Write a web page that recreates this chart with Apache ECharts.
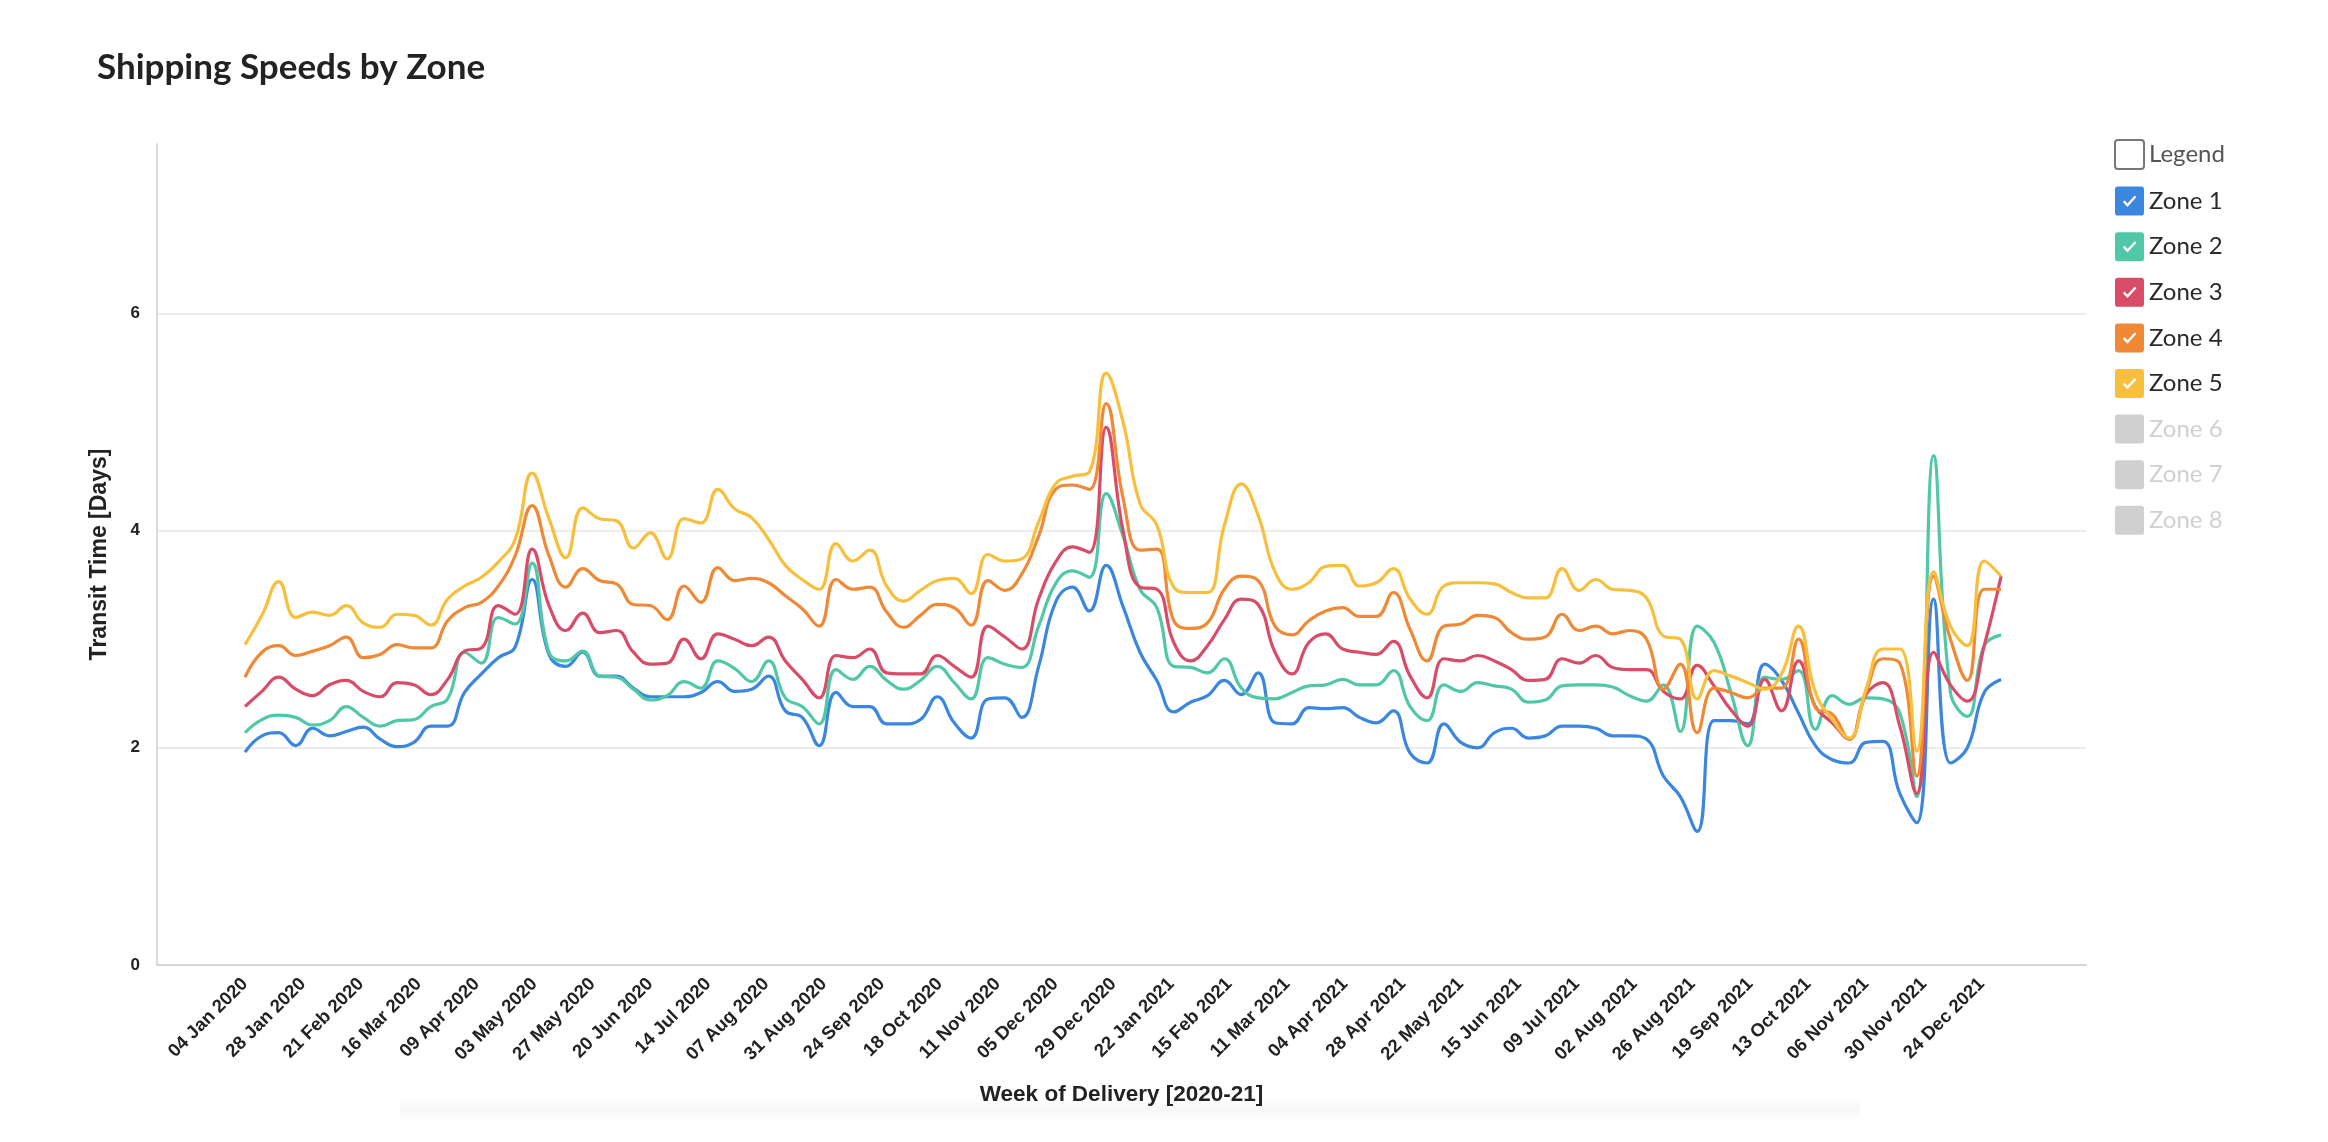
<!DOCTYPE html>
<html><head><meta charset="utf-8">
<script src="https://cdn.jsdelivr.net/npm/echarts@6/dist/echarts.min.js"></script>
<style>html,body{margin:0;padding:0;background:#fff}#c{width:2328px;height:1142px}</style>
</head><body><div id="c"></div>
<script>
// ---- data ----
const MONTHS = ['Jan','Feb','Mar','Apr','May','Jun','Jul','Aug','Sep','Oct','Nov','Dec'];
const firstWeek = '04 Jan 2020';
const weekCount = 105;
const tickLabels = ['04 Jan 2020','28 Jan 2020','21 Feb 2020','16 Mar 2020','09 Apr 2020','03 May 2020','27 May 2020','20 Jun 2020','14 Jul 2020','07 Aug 2020','31 Aug 2020','24 Sep 2020','18 Oct 2020','11 Nov 2020','05 Dec 2020','29 Dec 2020','22 Jan 2021','15 Feb 2021','11 Mar 2021','04 Apr 2021','28 Apr 2021','22 May 2021','15 Jun 2021','09 Jul 2021','02 Aug 2021','26 Aug 2021','19 Sep 2021','13 Oct 2021','06 Nov 2021','30 Nov 2021','24 Dec 2021'];
const zoneNames = ['Zone 1','Zone 2','Zone 3','Zone 4','Zone 5','Zone 6','Zone 7','Zone 8'];
const zone1 = [1.96,2.11,2.14,2.02,2.18,2.11,2.15,2.19,2.08,2.01,2.05,2.2,2.2,2.51,2.68,2.83,2.93,3.55,2.86,2.75,2.88,2.66,2.66,2.55,2.47,2.47,2.47,2.51,2.61,2.52,2.54,2.66,2.34,2.28,2.02,2.51,2.38,2.38,2.22,2.22,2.26,2.47,2.23,2.09,2.45,2.46,2.28,2.75,3.34,3.48,3.26,3.68,3.3,2.88,2.62,2.33,2.42,2.48,2.62,2.49,2.69,2.23,2.22,2.37,2.36,2.37,2.28,2.23,2.34,1.95,1.86,2.22,2.05,2.0,2.14,2.18,2.09,2.11,2.2,2.2,2.18,2.11,2.11,2.08,1.74,1.55,1.23,2.25,2.25,2.22,2.77,2.62,2.32,2.02,1.89,1.86,2.05,2.06,1.58,1.31,3.37,1.86,2.0,2.51,2.63];
const zone2 = [2.14,2.26,2.3,2.28,2.21,2.25,2.38,2.28,2.2,2.25,2.26,2.38,2.45,2.88,2.78,3.2,3.14,3.7,2.88,2.8,2.89,2.66,2.65,2.54,2.44,2.48,2.61,2.55,2.8,2.73,2.61,2.8,2.46,2.38,2.22,2.72,2.63,2.75,2.62,2.54,2.62,2.75,2.6,2.45,2.83,2.77,2.74,3.12,3.51,3.63,3.57,4.34,3.95,3.46,3.29,2.75,2.74,2.69,2.82,2.55,2.46,2.45,2.51,2.57,2.58,2.63,2.58,2.58,2.71,2.38,2.25,2.58,2.52,2.6,2.57,2.54,2.42,2.44,2.57,2.58,2.58,2.56,2.48,2.43,2.58,2.15,3.12,2.97,2.51,2.02,2.65,2.63,2.71,2.17,2.48,2.4,2.46,2.45,2.32,1.55,4.69,2.51,2.29,2.94,3.04];
const zone3 = [2.38,2.52,2.65,2.54,2.48,2.58,2.62,2.52,2.47,2.6,2.58,2.49,2.63,2.89,2.92,3.31,3.23,3.83,3.31,3.08,3.24,3.06,3.08,2.88,2.77,2.78,3.0,2.82,3.05,3.0,2.94,3.02,2.8,2.63,2.46,2.85,2.83,2.91,2.69,2.68,2.68,2.85,2.75,2.65,3.12,3.02,2.91,3.37,3.71,3.85,3.8,4.95,4.0,3.48,3.46,2.97,2.8,2.94,3.18,3.37,3.32,2.88,2.68,2.97,3.05,2.91,2.88,2.86,2.98,2.66,2.46,2.82,2.8,2.85,2.8,2.72,2.62,2.63,2.82,2.78,2.85,2.74,2.72,2.72,2.52,2.45,2.76,2.57,2.35,2.2,2.63,2.34,2.8,2.38,2.23,2.08,2.49,2.6,2.2,1.58,2.88,2.58,2.43,2.94,3.58];
const zone4 = [2.65,2.88,2.94,2.85,2.89,2.94,3.02,2.83,2.86,2.95,2.92,2.92,3.17,3.29,3.34,3.49,3.77,4.23,3.77,3.48,3.65,3.54,3.51,3.32,3.31,3.18,3.49,3.34,3.66,3.54,3.56,3.52,3.4,3.28,3.12,3.55,3.46,3.48,3.25,3.11,3.22,3.32,3.29,3.13,3.54,3.45,3.6,3.95,4.38,4.42,4.38,5.17,4.3,3.82,3.83,3.17,3.1,3.15,3.46,3.58,3.54,3.12,3.04,3.17,3.26,3.29,3.21,3.21,3.43,3.09,2.8,3.12,3.14,3.22,3.2,3.06,3.0,3.02,3.23,3.08,3.12,3.05,3.08,3.0,2.54,2.77,2.14,2.55,2.51,2.46,2.55,2.55,3.0,2.37,2.31,2.08,2.51,2.82,2.78,1.74,3.58,3.0,2.62,3.46,3.46];
const zone5 = [2.95,3.22,3.53,3.2,3.25,3.22,3.31,3.15,3.11,3.23,3.22,3.13,3.37,3.49,3.57,3.71,3.92,4.53,4.11,3.75,4.21,4.11,4.09,3.84,3.98,3.74,4.11,4.07,4.38,4.2,4.12,3.92,3.68,3.55,3.46,3.88,3.72,3.82,3.49,3.35,3.45,3.54,3.56,3.42,3.78,3.72,3.74,4.08,4.43,4.5,4.54,5.45,5.0,4.25,4.05,3.48,3.43,3.43,4.05,4.43,4.14,3.62,3.46,3.52,3.67,3.68,3.49,3.52,3.65,3.37,3.23,3.49,3.52,3.52,3.51,3.43,3.38,3.38,3.65,3.45,3.55,3.46,3.45,3.38,3.03,3.0,2.45,2.71,2.66,2.6,2.54,2.68,3.12,2.51,2.26,2.09,2.54,2.91,2.91,1.97,3.62,3.12,2.94,3.72,3.58];
const zoneValues = [zone1, zone2, zone3, zone4, zone5, [], [], []];
const zoneColors = ['#3b86df','#50c8a8','#d94c67','#ef8936','#f7bf3c','#d0d0d0','#d0d0d0','#d0d0d0'];

// ---- helpers ----
function parseDate(s){ const p = s.split(' '); return Date.UTC(+p[2], MONTHS.indexOf(p[1]), +p[0]); }
function fmtDate(v){ const d = new Date(v); const dd = String(d.getUTCDate()).padStart(2,'0'); return dd + ' ' + MONTHS[d.getUTCMonth()] + ' ' + d.getUTCFullYear(); }
const DAY = 864e5;
const t0 = parseDate(firstWeek);
const weeks = []; for (let k = 0; k < weekCount; k++) weeks.push(t0 + k * 7 * DAY);
const tickValues = tickLabels.map(parseDate);

const boxPath = 'path://M10,0H90Q100,0 100,10V90Q100,100 90,100H10Q0,100 0,90V10Q0,0 10,0Z';
const checkPath = 'path://M10,0H90Q100,0 100,10V90Q100,100 90,100H10Q0,100 0,90V10Q0,0 10,0Z M27,53L43,70L74,36L68,31L43,58L33,47Z';

const series = zoneNames.map((n, i) => ({
  name: n, type: 'line', smooth: 0.45, symbol: 'none',
  lineStyle: { width: 3.2, color: zoneColors[i] },
  itemStyle: { color: zoneColors[i] },
  data: zoneValues[i].map((v, k) => [weeks[k], v])
}));
series.unshift({ name: 'Legend', type: 'line', symbol: 'none', data: [], itemStyle: { color: '#fff' } });

const axisFont = 'Liberation Sans, Arial, sans-serif';
const chart = echarts.init(document.getElementById('c'));
chart.setOption({
  animation: false,
  backgroundColor: '#fff',
  title: { text: 'Shipping Speeds by Zone', left: 92, top: 45,
    textStyle: { fontFamily: 'Lato', fontWeight: 'bold', fontSize: 35, color: '#222' } },
  grid: { left: 157, right: 242, top: 144, bottom: 177 },
  graphic: [{ type: 'rect', silent: true, z: -1, shape: { x: 400, y: 1098, width: 1460, height: 22 },
    style: { fill: new echarts.graphic.LinearGradient(0, 0, 0, 1, [
      { offset: 0, color: 'rgba(0,0,0,0)' }, { offset: 0.55, color: 'rgba(0,0,0,0.03)' }, { offset: 1, color: 'rgba(0,0,0,0)' }]) } }],
  legend: {
    orient: 'vertical', left: 2109, top: 134, itemWidth: 29, itemHeight: 29, itemGap: 16.6,
    icon: checkPath,
    textStyle: { fontFamily: 'Lato', fontSize: 24, color: '#2a2a2a' },
    inactiveColor: '#d0d0d0', inactiveBorderColor: '#d0d0d0',
    selected: { 'Zone 6': false, 'Zone 7': false, 'Zone 8': false },
    data: [
      { name: 'Legend', icon: boxPath, itemStyle: { color: '#fff', borderColor: '#777', borderWidth: 2 }, textStyle: { color: '#555' } },
      'Zone 1', 'Zone 2', 'Zone 3', 'Zone 4', 'Zone 5',
      { name: 'Zone 6', icon: boxPath }, { name: 'Zone 7', icon: boxPath }, { name: 'Zone 8', icon: boxPath }
    ]
  },
  xAxis: {
    type: 'value',
    min: t0 - 36.5 * DAY, max: t0 - 36.5 * DAY + 799.7 * DAY,
    name: 'Week of Delivery [2020-21]', nameLocation: 'middle', nameGap: 118,
    nameTextStyle: { fontFamily: axisFont, fontWeight: 'bold', fontSize: 22.5, color: '#222' },
    axisLine: { show: true, onZero: false, lineStyle: { color: '#d4d4d4', width: 2 } },
    axisTick: { show: false, customValues: tickValues },
    splitLine: { show: false },
    axisLabel: { customValues: tickValues, rotate: 45, margin: 16, formatter: (v) => fmtDate(v),
      fontFamily: axisFont, fontWeight: 'bold', fontSize: 18.5, color: '#222', hideOverlap: false }
  },
  yAxis: {
    type: 'value', min: 0, max: 7.56, interval: 2,
    name: 'Transit Time [Days]', nameLocation: 'middle', nameGap: 46,
    nameTextStyle: { fontFamily: axisFont, fontWeight: 'bold', fontSize: 23, color: '#222' },
    axisLine: { show: true, lineStyle: { color: '#dcdcdc', width: 2 } },
    axisTick: { show: false },
    axisLabel: { margin: 17, showMaxLabel: false, fontFamily: axisFont, fontWeight: 'bold', fontSize: 17, color: '#222' },
    splitLine: { show: true, lineStyle: { color: ['#ececec','#ececec','#ececec','#ececec','rgba(0,0,0,0)'], width: 2 } }
  },
  series: series
});
</script>
</body></html>
